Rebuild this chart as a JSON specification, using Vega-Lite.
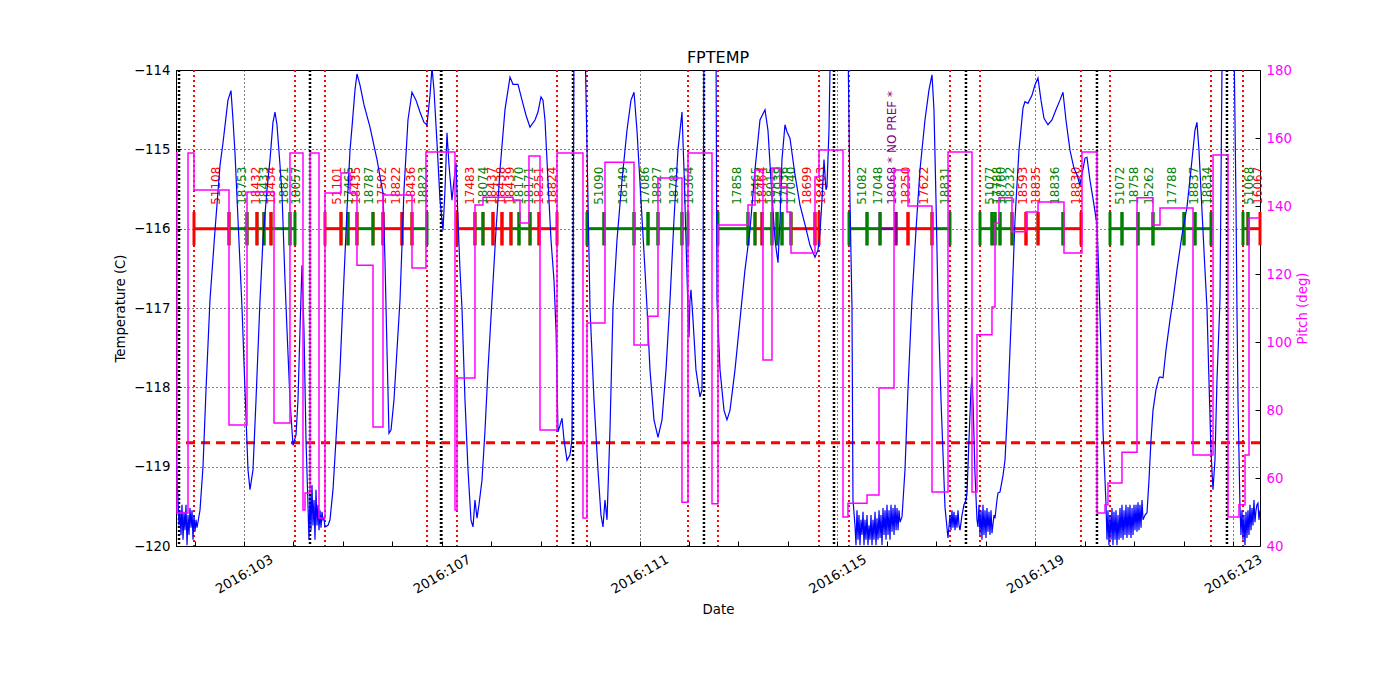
{
  "$schema": "https://vega.github.io/schema/vega-lite/v6.json",
  "width": 1084,
  "height": 476,
  "autosize": {"type": "none"},
  "padding": {"left": 176, "top": 70, "right": 140, "bottom": 154},
  "background": "white",
  "config": {
    "font": "DejaVu Sans",
    "view": {"stroke": "black", "strokeWidth": 1},
    "axis": {"domain": false, "labelFont": "DejaVu Sans", "titleFont": "DejaVu Sans", "labelFontSize": 13.3, "titleFontSize": 13.3, "titleFontWeight": "normal", "labelColor": "black", "titleColor": "black", "tickColor": "black", "labelOverlap": false, "labelFlush": false}
  },
  "title": {"text": "FPTEMP", "fontSize": 16, "fontWeight": "normal", "font": "DejaVu Sans", "offset": -3, "color": "black"},
  "datasets": {
    "vlines": [
      {"t": 101.989, "kind": "radzone"}, {"t": 104.031, "kind": "radzone"}, {"t": 104.638, "kind": "radzone"}, {"t": 106.701, "kind": "radzone"}, {"t": 107.307, "kind": "radzone"}, {"t": 109.330, "kind": "radzone"}, {"t": 109.936, "kind": "radzone"}, {"t": 111.979, "kind": "radzone"}, {"t": 112.585, "kind": "radzone"}, {"t": 114.628, "kind": "radzone"}, {"t": 115.235, "kind": "radzone"}, {"t": 117.277, "kind": "radzone"}, {"t": 117.884, "kind": "radzone"}, {"t": 119.926, "kind": "radzone"}, {"t": 120.513, "kind": "radzone"}, {"t": 122.555, "kind": "radzone"}, {"t": 123.202, "kind": "radzone"},
      {"t": 101.686, "kind": "perigee"}, {"t": 104.335, "kind": "perigee"}, {"t": 106.984, "kind": "perigee"}, {"t": 109.653, "kind": "perigee"}, {"t": 112.302, "kind": "perigee"}, {"t": 114.931, "kind": "perigee"}, {"t": 117.600, "kind": "perigee"}, {"t": 120.249, "kind": "perigee"}, {"t": 122.878, "kind": "perigee"}
    ],
    "limit": [{"limit": -118.7}],
    "obs": [
      {"label": "51108", "cat": "warm", "tstart": 101.989, "tstop": 102.697},
      {"label": "18753", "cat": "cool", "tstart": 102.697, "tstop": 103.061},
      {"label": "18432", "cat": "warm", "tstart": 103.061, "tstop": 103.263},
      {"label": "18433", "cat": "cool", "tstart": 103.263, "tstop": 103.404},
      {"label": "18434", "cat": "warm", "tstart": 103.404, "tstop": 103.546},
      {"label": "18821", "cat": "cool", "tstart": 103.546, "tstop": 103.930},
      {"label": "18057", "cat": "cool", "tstart": 103.930, "tstop": 104.031},
      {"label": "51101", "cat": "warm", "tstart": 104.638, "tstop": 104.962},
      {"label": "17465", "cat": "cool", "tstart": 104.962, "tstop": 105.103},
      {"label": "18435", "cat": "warm", "tstart": 105.103, "tstop": 105.285},
      {"label": "18787", "cat": "cool", "tstart": 105.285, "tstop": 105.609},
      {"label": "17502", "cat": "warm", "tstart": 105.609, "tstop": 105.811},
      {"label": "18822", "cat": "warm", "tstart": 105.811, "tstop": 106.195},
      {"label": "18436", "cat": "warm", "tstart": 106.195, "tstop": 106.397},
      {"label": "18823", "cat": "cool", "tstart": 106.397, "tstop": 106.701},
      {"label": "17483", "cat": "warm", "tstart": 107.307, "tstop": 107.671},
      {"label": "18074", "cat": "cool", "tstart": 107.671, "tstop": 107.833},
      {"label": "18437", "cat": "warm", "tstart": 107.833, "tstop": 108.035},
      {"label": "18438", "cat": "warm", "tstart": 108.035, "tstop": 108.217},
      {"label": "18439", "cat": "warm", "tstart": 108.217, "tstop": 108.399},
      {"label": "18170", "cat": "cool", "tstart": 108.399, "tstop": 108.561},
      {"label": "18171", "cat": "cool", "tstart": 108.561, "tstop": 108.784},
      {"label": "18251", "cat": "warm", "tstart": 108.784, "tstop": 108.966},
      {"label": "18824", "cat": "warm", "tstart": 108.966, "tstop": 109.330},
      {"label": "51090", "cat": "cool", "tstart": 109.936, "tstop": 110.280},
      {"label": "18149", "cat": "cool", "tstart": 110.280, "tstop": 110.887},
      {"label": "17086", "cat": "cool", "tstart": 110.887, "tstop": 111.170},
      {"label": "18827", "cat": "cool", "tstart": 111.170, "tstop": 111.372},
      {"label": "18783", "cat": "cool", "tstart": 111.372, "tstop": 111.857},
      {"label": "16364", "cat": "cool", "tstart": 111.857, "tstop": 111.979},
      {"label": "17858", "cat": "cool", "tstart": 112.585, "tstop": 113.192},
      {"label": "17465", "cat": "cool", "tstart": 113.192, "tstop": 113.334},
      {"label": "18464", "cat": "warm", "tstart": 113.334, "tstop": 113.475},
      {"label": "18015", "cat": "cool", "tstart": 113.475, "tstop": 113.677},
      {"label": "17039", "cat": "cool", "tstart": 113.677, "tstop": 113.779},
      {"label": "17036", "cat": "cool", "tstart": 113.779, "tstop": 113.880},
      {"label": "17040", "cat": "cool", "tstart": 113.880, "tstop": 114.062},
      {"label": "18699", "cat": "warm", "tstart": 114.062, "tstop": 114.547},
      {"label": "18463", "cat": "warm", "tstart": 114.547, "tstop": 114.628},
      {"label": "51082", "cat": "cool", "tstart": 115.235, "tstop": 115.599},
      {"label": "17048", "cat": "cool", "tstart": 115.599, "tstop": 115.862},
      {"label": "18068 * NO PREF *", "cat": "nopref", "tstart": 115.862, "tstop": 116.185},
      {"label": "18250", "cat": "warm", "tstart": 116.185, "tstop": 116.428},
      {"label": "17622", "cat": "warm", "tstart": 116.428, "tstop": 116.913},
      {"label": "18831", "cat": "cool", "tstart": 116.913, "tstop": 117.277},
      {"label": "51077", "cat": "cool", "tstart": 117.884, "tstop": 118.126},
      {"label": "17788", "cat": "cool", "tstart": 118.126, "tstop": 118.187},
      {"label": "18760", "cat": "cool", "tstart": 118.187, "tstop": 118.288},
      {"label": "18232", "cat": "cool", "tstart": 118.288, "tstop": 118.531},
      {"label": "18593", "cat": "warm", "tstart": 118.531, "tstop": 118.814},
      {"label": "18835", "cat": "warm", "tstart": 118.814, "tstop": 119.057},
      {"label": "18836", "cat": "cool", "tstart": 119.057, "tstop": 119.562},
      {"label": "18830", "cat": "warm", "tstart": 119.562, "tstop": 119.926},
      {"label": "51072", "cat": "cool", "tstart": 120.513, "tstop": 120.755},
      {"label": "18758", "cat": "cool", "tstart": 120.755, "tstop": 121.079},
      {"label": "15262", "cat": "cool", "tstart": 121.079, "tstop": 121.382},
      {"label": "17788", "cat": "cool", "tstart": 121.382, "tstop": 122.009},
      {"label": "18837", "cat": "cool", "tstart": 122.009, "tstop": 122.232},
      {"label": "18834", "cat": "cool", "tstart": 122.232, "tstop": 122.555},
      {"label": "51068", "cat": "cool", "tstart": 123.202, "tstop": 123.303},
      {"label": "16067", "cat": "warm", "tstart": 123.303, "tstop": 123.546}
    ],
    "temp": [
      {"t":101.625,"temp":-118.85},{"t":101.665,"temp":-119.42},{"t":101.686,"temp":-119.74},{"t":101.706,"temp":-119.55},{"t":101.726,"temp":-119.86},{"t":101.746,"temp":-119.48},{"t":101.767,"temp":-119.92},{"t":101.787,"temp":-119.57},{"t":101.807,"temp":-119.80},{"t":101.827,"temp":-119.48},{"t":101.848,"temp":-119.99},{"t":101.868,"temp":-119.61},{"t":101.888,"temp":-119.86},{"t":101.908,"temp":-119.52},{"t":101.929,"temp":-119.77},{"t":101.949,"temp":-119.55},{"t":101.969,"temp":-119.92},{"t":101.989,"temp":-119.61},{"t":102.010,"temp":-119.82},{"t":102.030,"temp":-119.67},{"t":102.050,"temp":-119.77},{"t":102.110,"temp":-119.55},{"t":102.171,"temp":-119.00},{"t":102.232,"temp":-118.03},{"t":102.312,"temp":-116.90},{"t":102.414,"temp":-116.02},{"t":102.515,"temp":-115.20},{"t":102.575,"temp":-114.92},{"t":102.676,"temp":-114.38},{"t":102.737,"temp":-114.26},{"t":102.778,"temp":-114.63},{"t":102.818,"temp":-115.05},{"t":102.879,"temp":-115.89},{"t":102.960,"temp":-117.00},{"t":103.020,"temp":-118.03},{"t":103.081,"temp":-119.04},{"t":103.121,"temp":-119.29},{"t":103.182,"temp":-119.04},{"t":103.243,"temp":-118.16},{"t":103.324,"temp":-116.90},{"t":103.384,"temp":-116.14},{"t":103.465,"temp":-115.51},{"t":103.526,"temp":-115.13},{"t":103.586,"temp":-114.66},{"t":103.627,"temp":-114.53},{"t":103.667,"temp":-114.69},{"t":103.728,"temp":-115.20},{"t":103.768,"temp":-115.55},{"t":103.829,"temp":-116.65},{"t":103.870,"temp":-117.28},{"t":103.930,"temp":-118.16},{"t":103.991,"temp":-118.73},{"t":104.052,"temp":-118.60},{"t":104.092,"temp":-118.16},{"t":104.132,"temp":-117.28},{"t":104.173,"temp":-116.46},{"t":104.213,"temp":-117.28},{"t":104.254,"temp":-118.66},{"t":104.294,"temp":-119.48},{"t":104.314,"temp":-119.92},{"t":104.335,"temp":-119.36},{"t":104.355,"temp":-119.80},{"t":104.375,"temp":-119.23},{"t":104.395,"temp":-119.74},{"t":104.416,"temp":-119.42},{"t":104.436,"temp":-119.92},{"t":104.456,"temp":-119.29},{"t":104.476,"temp":-119.74},{"t":104.497,"temp":-119.48},{"t":104.517,"temp":-119.80},{"t":104.537,"temp":-119.55},{"t":104.557,"temp":-119.77},{"t":104.577,"temp":-119.57},{"t":104.598,"temp":-119.67},{"t":104.618,"temp":-119.65},{"t":104.638,"temp":-119.76},{"t":104.699,"temp":-119.74},{"t":104.739,"temp":-119.67},{"t":104.800,"temp":-119.29},{"t":104.860,"temp":-118.66},{"t":104.941,"temp":-117.78},{"t":105.002,"temp":-116.90},{"t":105.083,"temp":-115.76},{"t":105.144,"temp":-115.01},{"t":105.184,"temp":-114.72},{"t":105.245,"temp":-114.25},{"t":105.285,"temp":-114.05},{"t":105.346,"temp":-114.19},{"t":105.427,"temp":-114.44},{"t":105.548,"temp":-114.72},{"t":105.690,"temp":-115.13},{"t":105.811,"temp":-115.55},{"t":105.851,"temp":-116.40},{"t":105.892,"temp":-117.53},{"t":105.932,"temp":-118.58},{"t":105.973,"temp":-118.54},{"t":106.033,"temp":-118.16},{"t":106.094,"temp":-117.53},{"t":106.155,"temp":-116.90},{"t":106.236,"temp":-115.51},{"t":106.316,"temp":-114.63},{"t":106.397,"temp":-114.28},{"t":106.478,"temp":-114.38},{"t":106.559,"temp":-114.53},{"t":106.640,"temp":-114.66},{"t":106.701,"temp":-114.69},{"t":106.761,"temp":-114.32},{"t":106.802,"temp":-113.97},{"t":106.842,"temp":-114.25},{"t":106.903,"temp":-114.92},{"t":106.964,"temp":-115.64},{"t":107.024,"temp":-116.02},{"t":107.065,"temp":-115.51},{"t":107.105,"temp":-114.79},{"t":107.146,"temp":-115.20},{"t":107.206,"temp":-115.64},{"t":107.247,"temp":-115.39},{"t":107.287,"temp":-115.17},{"t":107.328,"temp":-115.89},{"t":107.368,"temp":-116.52},{"t":107.408,"temp":-117.00},{"t":107.469,"temp":-118.16},{"t":107.530,"temp":-119.04},{"t":107.590,"temp":-119.67},{"t":107.631,"temp":-119.76},{"t":107.671,"temp":-119.42},{"t":107.712,"temp":-119.65},{"t":107.752,"temp":-119.48},{"t":107.813,"temp":-119.17},{"t":107.874,"temp":-118.54},{"t":107.934,"temp":-117.78},{"t":108.015,"temp":-116.90},{"t":108.096,"temp":-116.02},{"t":108.177,"temp":-115.26},{"t":108.278,"temp":-114.50},{"t":108.379,"temp":-114.09},{"t":108.440,"temp":-114.18},{"t":108.541,"temp":-114.18},{"t":108.622,"temp":-114.38},{"t":108.703,"temp":-114.57},{"t":108.783,"temp":-114.72},{"t":108.885,"temp":-114.63},{"t":108.945,"temp":-114.53},{"t":109.006,"temp":-114.34},{"t":109.046,"temp":-114.38},{"t":109.087,"temp":-114.63},{"t":109.147,"temp":-115.39},{"t":109.208,"temp":-116.14},{"t":109.269,"temp":-116.65},{"t":109.310,"temp":-117.28},{"t":109.350,"temp":-118.56},{"t":109.390,"temp":-118.48},{"t":109.431,"temp":-118.39},{"t":109.471,"temp":-118.66},{"t":109.532,"temp":-118.92},{"t":109.592,"temp":-118.85},{"t":109.633,"temp":-118.66},{"t":109.653,"temp":-116.90},{"t":109.673,"temp":-113.62},{"t":109.896,"temp":-113.62},{"t":109.956,"temp":-115.64},{"t":109.997,"temp":-117.00},{"t":110.078,"temp":-118.16},{"t":110.158,"temp":-119.04},{"t":110.219,"temp":-119.61},{"t":110.260,"temp":-119.76},{"t":110.300,"temp":-119.42},{"t":110.341,"temp":-119.67},{"t":110.401,"temp":-118.54},{"t":110.462,"temp":-117.00},{"t":110.543,"temp":-116.14},{"t":110.644,"temp":-115.39},{"t":110.745,"temp":-114.76},{"t":110.826,"temp":-114.38},{"t":110.887,"temp":-114.28},{"t":110.947,"temp":-114.76},{"t":111.028,"temp":-115.64},{"t":111.109,"temp":-116.52},{"t":111.150,"temp":-117.00},{"t":111.210,"temp":-117.78},{"t":111.291,"temp":-118.41},{"t":111.372,"temp":-118.63},{"t":111.453,"temp":-118.41},{"t":111.534,"temp":-117.78},{"t":111.615,"temp":-116.90},{"t":111.695,"temp":-115.89},{"t":111.776,"temp":-115.01},{"t":111.857,"temp":-114.53},{"t":111.898,"temp":-115.26},{"t":111.938,"temp":-116.14},{"t":111.979,"temp":-117.03},{"t":111.999,"temp":-117.37},{"t":112.019,"temp":-116.90},{"t":112.039,"temp":-116.77},{"t":112.080,"temp":-117.15},{"t":112.140,"temp":-117.78},{"t":112.221,"temp":-118.12},{"t":112.262,"temp":-118.03},{"t":112.282,"temp":-116.90},{"t":112.302,"temp":-113.62},{"t":112.545,"temp":-113.62},{"t":112.565,"temp":-116.90},{"t":112.626,"temp":-117.78},{"t":112.707,"temp":-118.29},{"t":112.767,"temp":-118.41},{"t":112.828,"temp":-118.29},{"t":112.929,"temp":-117.78},{"t":113.030,"temp":-117.15},{"t":113.131,"temp":-116.52},{"t":113.232,"temp":-116.02},{"t":113.333,"temp":-115.26},{"t":113.435,"temp":-114.63},{"t":113.536,"temp":-114.50},{"t":113.596,"temp":-114.76},{"t":113.657,"temp":-115.39},{"t":113.738,"temp":-116.14},{"t":113.799,"temp":-116.43},{"t":113.839,"temp":-115.89},{"t":113.879,"temp":-115.13},{"t":113.940,"temp":-114.69},{"t":113.981,"temp":-114.78},{"t":114.041,"temp":-114.86},{"t":114.142,"temp":-115.32},{"t":114.243,"temp":-115.70},{"t":114.345,"temp":-115.95},{"t":114.446,"temp":-116.21},{"t":114.547,"temp":-116.36},{"t":114.607,"temp":-116.27},{"t":114.648,"temp":-116.05},{"t":114.688,"temp":-115.64},{"t":114.729,"temp":-115.13},{"t":114.769,"temp":-115.51},{"t":114.789,"temp":-115.47},{"t":114.830,"temp":-114.76},{"t":114.850,"temp":-114.00},{"t":114.870,"temp":-113.62},{"t":115.214,"temp":-113.62},{"t":115.254,"temp":-115.64},{"t":115.295,"temp":-117.00},{"t":115.315,"temp":-119.42},{"t":115.356,"temp":-119.74},{"t":115.376,"temp":-119.99},{"t":115.396,"temp":-119.55},{"t":115.417,"temp":-119.92},{"t":115.437,"temp":-119.61},{"t":115.457,"temp":-119.99},{"t":115.477,"temp":-119.67},{"t":115.498,"temp":-119.86},{"t":115.518,"temp":-119.57},{"t":115.538,"temp":-119.99},{"t":115.558,"temp":-119.67},{"t":115.578,"temp":-119.92},{"t":115.599,"temp":-119.61},{"t":115.619,"temp":-119.99},{"t":115.639,"temp":-119.74},{"t":115.659,"temp":-119.92},{"t":115.680,"temp":-119.61},{"t":115.700,"temp":-119.99},{"t":115.720,"temp":-119.67},{"t":115.740,"temp":-119.92},{"t":115.761,"temp":-119.57},{"t":115.781,"temp":-119.99},{"t":115.801,"temp":-119.65},{"t":115.821,"temp":-119.92},{"t":115.842,"temp":-119.55},{"t":115.862,"temp":-119.90},{"t":115.882,"temp":-119.61},{"t":115.902,"temp":-119.99},{"t":115.922,"temp":-119.52},{"t":115.943,"temp":-119.86},{"t":115.963,"temp":-119.55},{"t":115.983,"temp":-119.92},{"t":116.003,"temp":-119.48},{"t":116.024,"temp":-119.86},{"t":116.044,"temp":-119.55},{"t":116.064,"temp":-119.92},{"t":116.084,"temp":-119.48},{"t":116.105,"temp":-119.82},{"t":116.125,"temp":-119.52},{"t":116.145,"temp":-119.86},{"t":116.165,"temp":-119.48},{"t":116.186,"temp":-119.80},{"t":116.206,"temp":-119.52},{"t":116.226,"temp":-119.80},{"t":116.246,"temp":-119.55},{"t":116.266,"temp":-119.70},{"t":116.307,"temp":-119.63},{"t":116.367,"temp":-119.04},{"t":116.427,"temp":-118.03},{"t":116.508,"temp":-116.90},{"t":116.589,"temp":-116.02},{"t":116.670,"temp":-115.26},{"t":116.771,"temp":-114.63},{"t":116.852,"temp":-114.25},{"t":116.913,"temp":-114.06},{"t":116.953,"temp":-114.50},{"t":116.994,"temp":-115.64},{"t":117.034,"temp":-116.90},{"t":117.095,"temp":-118.16},{"t":117.176,"temp":-119.51},{"t":117.236,"temp":-119.90},{"t":117.277,"temp":-119.61},{"t":117.297,"temp":-119.80},{"t":117.317,"temp":-119.55},{"t":117.338,"temp":-119.77},{"t":117.358,"temp":-119.57},{"t":117.378,"temp":-119.80},{"t":117.398,"temp":-119.61},{"t":117.418,"temp":-119.77},{"t":117.439,"temp":-119.55},{"t":117.459,"temp":-119.74},{"t":117.479,"temp":-119.80},{"t":117.520,"temp":-119.61},{"t":117.560,"temp":-119.48},{"t":117.600,"temp":-119.42},{"t":117.621,"temp":-119.33},{"t":117.661,"temp":-118.66},{"t":117.701,"temp":-118.03},{"t":117.722,"temp":-117.87},{"t":117.742,"temp":-118.16},{"t":117.782,"temp":-119.08},{"t":117.823,"temp":-119.67},{"t":117.843,"temp":-119.76},{"t":117.863,"temp":-119.48},{"t":117.883,"temp":-119.86},{"t":117.904,"temp":-119.55},{"t":117.924,"temp":-119.92},{"t":117.944,"temp":-119.48},{"t":117.964,"temp":-119.86},{"t":117.985,"temp":-119.55},{"t":118.005,"temp":-119.90},{"t":118.025,"temp":-119.52},{"t":118.045,"temp":-119.82},{"t":118.066,"temp":-119.57},{"t":118.086,"temp":-119.86},{"t":118.106,"temp":-119.55},{"t":118.126,"temp":-119.84},{"t":118.167,"temp":-119.61},{"t":118.187,"temp":-119.65},{"t":118.227,"temp":-119.42},{"t":118.248,"temp":-119.33},{"t":118.288,"temp":-119.32},{"t":118.349,"temp":-119.11},{"t":118.389,"temp":-118.92},{"t":118.450,"temp":-118.16},{"t":118.490,"temp":-117.53},{"t":118.531,"temp":-116.90},{"t":118.591,"temp":-115.89},{"t":118.672,"temp":-115.01},{"t":118.753,"temp":-114.48},{"t":118.793,"temp":-114.40},{"t":118.854,"temp":-114.42},{"t":118.935,"temp":-114.32},{"t":118.995,"temp":-114.19},{"t":119.056,"temp":-114.10},{"t":119.117,"temp":-114.38},{"t":119.178,"temp":-114.61},{"t":119.258,"temp":-114.69},{"t":119.339,"temp":-114.63},{"t":119.420,"temp":-114.50},{"t":119.501,"temp":-114.38},{"t":119.562,"temp":-114.28},{"t":119.622,"temp":-114.63},{"t":119.703,"temp":-115.01},{"t":119.784,"temp":-115.24},{"t":119.845,"temp":-115.32},{"t":119.905,"temp":-115.45},{"t":119.946,"temp":-115.32},{"t":120.007,"temp":-115.11},{"t":120.047,"temp":-115.10},{"t":120.108,"temp":-115.39},{"t":120.189,"temp":-115.70},{"t":120.249,"temp":-115.95},{"t":120.290,"temp":-116.65},{"t":120.330,"temp":-117.53},{"t":120.371,"temp":-118.54},{"t":120.431,"temp":-119.46},{"t":120.452,"temp":-119.92},{"t":120.472,"temp":-119.55},{"t":120.492,"temp":-119.99},{"t":120.513,"temp":-119.61},{"t":120.533,"temp":-119.92},{"t":120.553,"temp":-119.52},{"t":120.573,"temp":-119.99},{"t":120.593,"temp":-119.57},{"t":120.614,"temp":-119.92},{"t":120.634,"temp":-119.55},{"t":120.654,"temp":-119.99},{"t":120.674,"temp":-119.61},{"t":120.695,"temp":-119.92},{"t":120.715,"temp":-119.52},{"t":120.735,"temp":-119.90},{"t":120.755,"temp":-119.48},{"t":120.776,"temp":-119.92},{"t":120.796,"temp":-119.55},{"t":120.816,"temp":-119.86},{"t":120.836,"temp":-119.48},{"t":120.856,"temp":-119.90},{"t":120.877,"temp":-119.51},{"t":120.897,"temp":-119.86},{"t":120.917,"temp":-119.48},{"t":120.937,"temp":-119.90},{"t":120.958,"temp":-119.52},{"t":120.978,"temp":-119.86},{"t":120.998,"temp":-119.48},{"t":121.018,"temp":-119.80},{"t":121.039,"temp":-119.48},{"t":121.059,"temp":-119.82},{"t":121.079,"temp":-119.45},{"t":121.099,"temp":-119.80},{"t":121.119,"temp":-119.48},{"t":121.140,"temp":-119.77},{"t":121.160,"temp":-119.42},{"t":121.180,"temp":-119.67},{"t":121.221,"temp":-119.61},{"t":121.261,"temp":-119.58},{"t":121.301,"temp":-119.17},{"t":121.342,"temp":-118.66},{"t":121.382,"temp":-118.29},{"t":121.443,"temp":-118.03},{"t":121.504,"temp":-117.88},{"t":121.524,"temp":-117.87},{"t":121.585,"temp":-117.88},{"t":121.645,"temp":-117.53},{"t":121.726,"temp":-117.15},{"t":121.787,"temp":-116.90},{"t":121.867,"temp":-116.52},{"t":121.968,"temp":-116.08},{"t":122.069,"temp":-115.73},{"t":122.150,"temp":-115.26},{"t":122.231,"temp":-114.76},{"t":122.271,"temp":-114.66},{"t":122.312,"temp":-115.01},{"t":122.372,"temp":-115.76},{"t":122.433,"temp":-116.52},{"t":122.474,"temp":-117.00},{"t":122.514,"temp":-117.91},{"t":122.554,"temp":-118.79},{"t":122.595,"temp":-119.29},{"t":122.635,"temp":-118.92},{"t":122.676,"temp":-117.91},{"t":122.737,"temp":-116.90},{"t":122.777,"temp":-114.00},{"t":122.797,"temp":-113.62},{"t":123.020,"temp":-113.62},{"t":123.060,"temp":-115.64},{"t":123.080,"temp":-117.00},{"t":123.101,"temp":-118.16},{"t":123.141,"temp":-119.51},{"t":123.161,"temp":-119.86},{"t":123.182,"temp":-119.55},{"t":123.202,"temp":-119.92},{"t":123.222,"temp":-119.61},{"t":123.242,"temp":-119.99},{"t":123.263,"temp":-119.57},{"t":123.283,"temp":-119.90},{"t":123.303,"temp":-119.55},{"t":123.323,"temp":-119.86},{"t":123.343,"temp":-119.48},{"t":123.364,"temp":-119.80},{"t":123.384,"temp":-119.52},{"t":123.404,"temp":-119.74},{"t":123.424,"temp":-119.42},{"t":123.444,"temp":-119.70},{"t":123.465,"temp":-119.55},{"t":123.485,"temp":-119.48},{"t":123.505,"temp":-119.46},{"t":123.525,"temp":-119.67},{"t":123.546,"temp":-119.55}
    ],
    "pitch": [
      {"t":101.625,"pitch":155.6},{"t":101.645,"pitch":49.7},{"t":101.868,"pitch":155.6},{"t":101.989,"pitch":144.7},{"t":102.697,"pitch":75.6},{"t":103.061,"pitch":144.1},{"t":103.607,"pitch":76.2},{"t":103.930,"pitch":155.6},{"t":104.193,"pitch":50.6},{"t":104.234,"pitch":55.6},{"t":104.335,"pitch":155.6},{"t":104.517,"pitch":48.2},{"t":104.638,"pitch":143.8},{"t":104.962,"pitch":149.7},{"t":105.144,"pitch":143.8},{"t":105.285,"pitch":122.6},{"t":105.609,"pitch":75.0},{"t":105.811,"pitch":143.2},{"t":106.397,"pitch":121.8},{"t":106.680,"pitch":155.9},{"t":107.267,"pitch":50.6},{"t":107.307,"pitch":89.4},{"t":107.671,"pitch":140.3},{"t":107.833,"pitch":142.6},{"t":108.440,"pitch":141.8},{"t":108.581,"pitch":135.0},{"t":108.763,"pitch":154.7},{"t":108.986,"pitch":74.1},{"t":109.330,"pitch":155.6},{"t":109.855,"pitch":48.2},{"t":109.936,"pitch":105.6},{"t":110.300,"pitch":152.9},{"t":110.887,"pitch":99.1},{"t":111.170,"pitch":107.6},{"t":111.372,"pitch":148.2},{"t":111.857,"pitch":52.9},{"t":111.979,"pitch":155.6},{"t":112.464,"pitch":52.4},{"t":112.585,"pitch":134.4},{"t":113.192,"pitch":140.3},{"t":113.334,"pitch":150.6},{"t":113.495,"pitch":94.7},{"t":113.677,"pitch":151.2},{"t":113.839,"pitch":145.6},{"t":113.981,"pitch":138.2},{"t":114.062,"pitch":126.2},{"t":114.547,"pitch":148.5},{"t":114.628,"pitch":156.5},{"t":115.113,"pitch":48.5},{"t":115.214,"pitch":52.6},{"t":115.599,"pitch":55.0},{"t":115.841,"pitch":86.5},{"t":116.145,"pitch":150.6},{"t":116.428,"pitch":140.0},{"t":116.913,"pitch":55.9},{"t":117.237,"pitch":155.9},{"t":117.722,"pitch":55.9},{"t":117.823,"pitch":102.1},{"t":118.126,"pitch":110.3},{"t":118.187,"pitch":135.0},{"t":118.268,"pitch":142.4},{"t":118.531,"pitch":132.4},{"t":118.814,"pitch":138.2},{"t":119.057,"pitch":141.2},{"t":119.582,"pitch":126.2},{"t":119.946,"pitch":155.9},{"t":120.250,"pitch":49.7},{"t":120.412,"pitch":52.1},{"t":120.472,"pitch":58.5},{"t":120.755,"pitch":67.6},{"t":121.059,"pitch":142.4},{"t":121.382,"pitch":134.4},{"t":121.524,"pitch":139.4},{"t":122.191,"pitch":66.8},{"t":122.596,"pitch":155.0},{"t":122.899,"pitch":48.5},{"t":123.121,"pitch":52.1},{"t":123.243,"pitch":66.8},{"t":123.324,"pitch":136.5},{"t":123.546,"pitch":136.5}
    ]
  },
  "layer": [
    {
      "layer": [
        {
          "data": {"name": "vlines"},
          "transform": [{"filter": "datum.kind == 'radzone'"}],
          "mark": {"type": "rule", "color": "#ff0000", "strokeWidth": 2, "strokeDash": [2, 3]},
          "encoding": {"x": {"field": "t", "type": "quantitative", "scale": {"domain": [101.625, 123.546], "nice": false, "zero": false}}}
        },
        {
          "data": {"name": "vlines"},
          "transform": [{"filter": "datum.kind == 'perigee'"}],
          "mark": {"type": "rule", "color": "#000000", "strokeWidth": 2.5, "strokeDash": [2, 2]},
          "encoding": {"x": {"field": "t", "type": "quantitative", "scale": {"domain": [101.625, 123.546], "nice": false, "zero": false}}}
        },
        {
          "data": {"name": "limit"},
          "mark": {"type": "rule", "color": "#ff0000", "strokeWidth": 3, "strokeDash": [9, 6]},
          "encoding": {"y": {"field": "limit", "type": "quantitative", "scale": {"domain": [-120, -114], "nice": false, "zero": false}}}
        },
        {
          "data": {"name": "obs"},
          "mark": {"type": "rule", "strokeWidth": 3},
          "encoding": {
            "x": {"field": "tstart", "type": "quantitative", "scale": {"domain": [101.625, 123.546], "nice": false, "zero": false}},
            "x2": {"field": "tstop"},
            "y": {"datum": -116, "type": "quantitative", "scale": {"domain": [-120, -114], "nice": false, "zero": false}},
            "color": {"field": "cat", "type": "nominal", "scale": {"domain": ["cool", "warm", "nopref"], "range": ["#008000", "#ff0000", "#800080"]}, "legend": null}
          }
        },
        {
          "data": {"name": "obs"},
          "mark": {"type": "rule", "strokeWidth": 3},
          "encoding": {
            "x": {"field": "tstart", "type": "quantitative", "scale": {"domain": [101.625, 123.546], "nice": false, "zero": false}},
            "y": {"datum": -115.79, "type": "quantitative", "scale": {"domain": [-120, -114], "nice": false, "zero": false}},
            "y2": {"datum": -116.21},
            "color": {"field": "cat", "type": "nominal", "scale": {"domain": ["cool", "warm", "nopref"], "range": ["#008000", "#ff0000", "#800080"]}, "legend": null}
          }
        },
        {
          "data": {"name": "obs"},
          "mark": {"type": "rule", "strokeWidth": 3},
          "encoding": {
            "x": {"field": "tstop", "type": "quantitative", "scale": {"domain": [101.625, 123.546], "nice": false, "zero": false}},
            "y": {"datum": -115.79, "type": "quantitative", "scale": {"domain": [-120, -114], "nice": false, "zero": false}},
            "y2": {"datum": -116.21},
            "color": {"field": "cat", "type": "nominal", "scale": {"domain": ["cool", "warm", "nopref"], "range": ["#008000", "#ff0000", "#800080"]}, "legend": null}
          }
        },
        {
          "data": {"name": "obs"},
          "transform": [
            {"fold": ["tstart", "tstop"], "as": ["k", "tv"]},
            {"aggregate": [{"op": "mean", "field": "tv", "as": "tmid"}], "groupby": ["label", "cat", "tstart"]}
          ],
          "mark": {"type": "text", "angle": 270, "align": "left", "baseline": "middle", "dy": 4, "fontSize": 12, "font": "DejaVu Sans"},
          "encoding": {
            "x": {"field": "tmid", "type": "quantitative", "scale": {"domain": [101.625, 123.546], "nice": false, "zero": false}},
            "y": {"datum": -115.70, "type": "quantitative", "scale": {"domain": [-120, -114], "nice": false, "zero": false}},
            "text": {"field": "label"},
            "color": {"field": "cat", "type": "nominal", "scale": {"domain": ["cool", "warm", "nopref"], "range": ["#008000", "#ff0000", "#800080"]}, "legend": null}
          }
        },
        {
          "data": {"name": "temp"},
          "mark": {"type": "line", "color": "#0000ff", "strokeWidth": 1.2, "clip": true},
          "encoding": {
            "x": {"field": "t", "type": "quantitative", "scale": {"domain": [101.625, 123.546], "nice": false, "zero": false},
              "axis": {"title": "Date", "values": [102,103,104,105,106,107,108,109,110,111,112,113,114,115,116,117,118,119,120,121,122,123],
                "labelExpr": "datum.value % 4 == 3 ? '2016:' + datum.value : ''",
                "labelAngle": -30, "labelAlign": "center", "labelBaseline": "middle", "labelPadding": 33, "tickSize": -5,
                "grid": true, "gridColor": "black", "gridDash": [1, 3], "gridWidth": 1,
                "gridOpacity": {"condition": {"test": "datum.value % 4 == 3", "value": 1}, "value": 0},
                "titleX": 542, "titleY": 63, "titleBaseline": "middle", "titleAlign": "center"}},
            "y": {"field": "temp", "type": "quantitative", "scale": {"domain": [-120, -114], "nice": false, "zero": false},
              "axis": {"title": "Temperature (C)", "orient": "left", "values": [-120,-119,-118,-117,-116,-115,-114], "format": "d", "tickSize": -5, "labelPadding": 11,
                "grid": true, "gridColor": "black", "gridDash": [1, 3], "gridWidth": 1,
                "titleX": -56, "titleY": 238, "titleAngle": 270, "titleBaseline": "middle", "titleAlign": "center"}}
          }
        }
      ]
    },
    {
      "data": {"name": "pitch"},
      "mark": {"type": "line", "interpolate": "step-after", "color": "#ff00ff", "strokeWidth": 1.5, "clip": true},
      "encoding": {
        "x": {"field": "t", "type": "quantitative", "scale": {"domain": [101.625, 123.546], "nice": false, "zero": false}},
        "y": {"field": "pitch", "type": "quantitative", "scale": {"domain": [40, 180], "nice": false, "zero": false},
          "axis": {"title": "Pitch (deg)", "orient": "right", "values": [40,60,80,100,120,140,160,180], "tickSize": -5, "labelPadding": 11, "grid": false,
            "labelColor": "#ff00ff", "titleColor": "#ff00ff",
            "titleX": 42, "titleY": 238, "titleAngle": 270, "titleBaseline": "middle", "titleAlign": "center"}}
      }
    }
  ],
  "resolve": {"scale": {"y": "independent"}}
}
